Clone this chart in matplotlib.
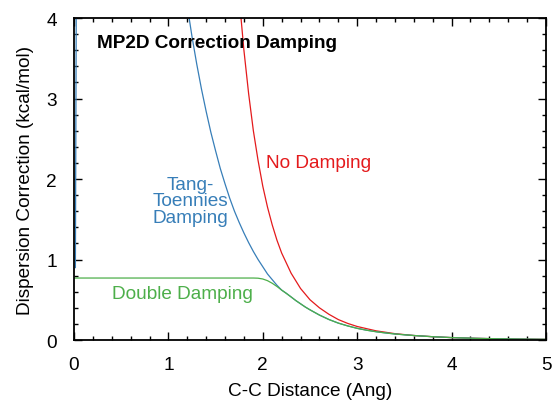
import numpy as np
import matplotlib
matplotlib.use("Agg")
import matplotlib.pyplot as plt
from matplotlib.ticker import MultipleLocator

# Colours of the three curves
RED = "#e41a1c"
BLUE = "#377eb8"
GREEN = "#4daf4a"

# No damping curve
nodamp_r = [1.76, 1.80, 1.85, 1.90, 1.95, 2.00, 2.05, 2.10, 2.15, 2.20, 2.30,
            2.40, 2.50, 2.60, 2.70, 2.80, 2.90, 3.00, 3.20, 3.40, 3.60, 3.80,
            4.00, 4.25, 4.50, 4.75, 5.00]
nodamp_e = [4.12, 3.60, 3.06, 2.60, 2.23, 1.91, 1.65, 1.43, 1.24, 1.08, 0.83,
            0.64, 0.50, 0.40, 0.32, 0.254, 0.206, 0.168, 0.114, 0.079, 0.056,
            0.041, 0.030, 0.021, 0.015, 0.011, 0.008]

# Tang-Toennies damping
tt_r = [1.20, 1.25, 1.30, 1.35, 1.40, 1.45, 1.50, 1.55, 1.60, 1.65, 1.70,
        1.75, 1.80, 1.85, 1.90, 1.95, 2.00, 2.05, 2.10, 2.15, 2.20, 2.25,
        2.30, 2.35, 2.40, 2.45, 2.50, 2.60, 2.70, 2.80, 2.90, 3.00, 3.10,
        3.20, 3.30, 3.40, 3.50, 3.60, 3.80, 4.00, 4.25, 4.50, 4.75, 5.00]
tt_e = [4.15, 3.77, 3.43, 3.12, 2.84, 2.58, 2.35, 2.13, 1.94, 1.76, 1.60,
        1.46, 1.33, 1.21, 1.10, 1.00, 0.91, 0.82, 0.75, 0.68, 0.62, 0.58,
        0.535, 0.49, 0.45, 0.41, 0.375, 0.31, 0.255, 0.21, 0.175, 0.145, 0.122,
        0.103, 0.088, 0.075, 0.065, 0.056, 0.041, 0.030, 0.021, 0.015, 0.011,
        0.008]
# the short spike of the TT curve right at r ~ 0
tt_spike_r = [0.015, 0.025]
tt_spike_e = [0.90, 4.50]

# Double damping
dd_r = [0.00, 1.90, 1.95, 2.00, 2.05, 2.10, 2.15, 2.20, 2.25, 2.30, 2.35,
        2.40, 2.45, 2.50, 2.60, 2.70, 2.80, 2.90, 3.00, 3.10, 3.20, 3.30,
        3.40, 3.50, 3.60, 3.80, 4.00, 4.25, 4.50, 4.75, 5.00]
dd_e = [0.77, 0.77, 0.768, 0.758, 0.737, 0.705, 0.665, 0.62, 0.578, 0.535,
        0.49, 0.45, 0.41, 0.375, 0.31, 0.255, 0.21, 0.175, 0.145, 0.122, 0.103,
        0.088, 0.075, 0.065, 0.056, 0.041, 0.030, 0.021, 0.015, 0.011, 0.008]

plt.rcParams["font.family"] = ["Liberation Sans", "DejaVu Sans"]
plt.rcParams["font.size"] = 13.7

fig = plt.figure(figsize=(5.55, 4.02), dpi=100)
ax = fig.add_axes([0.1333, 0.1517, 0.8505, 0.8010])

ax.plot(nodamp_r, nodamp_e, color=RED, lw=0.9)
ax.plot(tt_r, tt_e, color=BLUE, lw=0.9)
ax.plot(tt_spike_r, tt_spike_e, color=BLUE, lw=0.9)
ax.plot(dd_r, dd_e, color=GREEN, lw=0.9)

ax.set_xlim(0, 5)
ax.set_ylim(0, 4)
ax.xaxis.set_major_locator(MultipleLocator(1))
ax.xaxis.set_minor_locator(MultipleLocator(0.2))
ax.yaxis.set_major_locator(MultipleLocator(1))
ax.yaxis.set_minor_locator(MultipleLocator(0.2))
ax.tick_params(which="both", direction="in", top=True, right=True, width=1)
ax.tick_params(which="major", length=6)
ax.tick_params(which="minor", length=3)
ax.tick_params(axis="x", which="major", pad=11.5)
ax.tick_params(axis="y", which="major", pad=12.3)
for s in ax.spines.values():
    s.set_linewidth(1.3)

ax.set_xlabel("C-C Distance (Ang)", labelpad=6.5)
ax.set_ylabel("Dispersion Correction (kcal/mol)", labelpad=9)

ax.text(0.243, 3.70, "MP2D Correction Damping", fontweight="bold", va="center")
ax.text(2.03, 2.20, "No Damping", color=RED, va="center")
ax.text(1.23, 1.73, "Tang-\nToennies\nDamping", color=BLUE, ha="center",
        va="center", multialignment="center", linespacing=0.95)
ax.text(0.40, 0.58, "Double Damping", color=GREEN, va="center")

fig.savefig("out.png", dpi=100)
